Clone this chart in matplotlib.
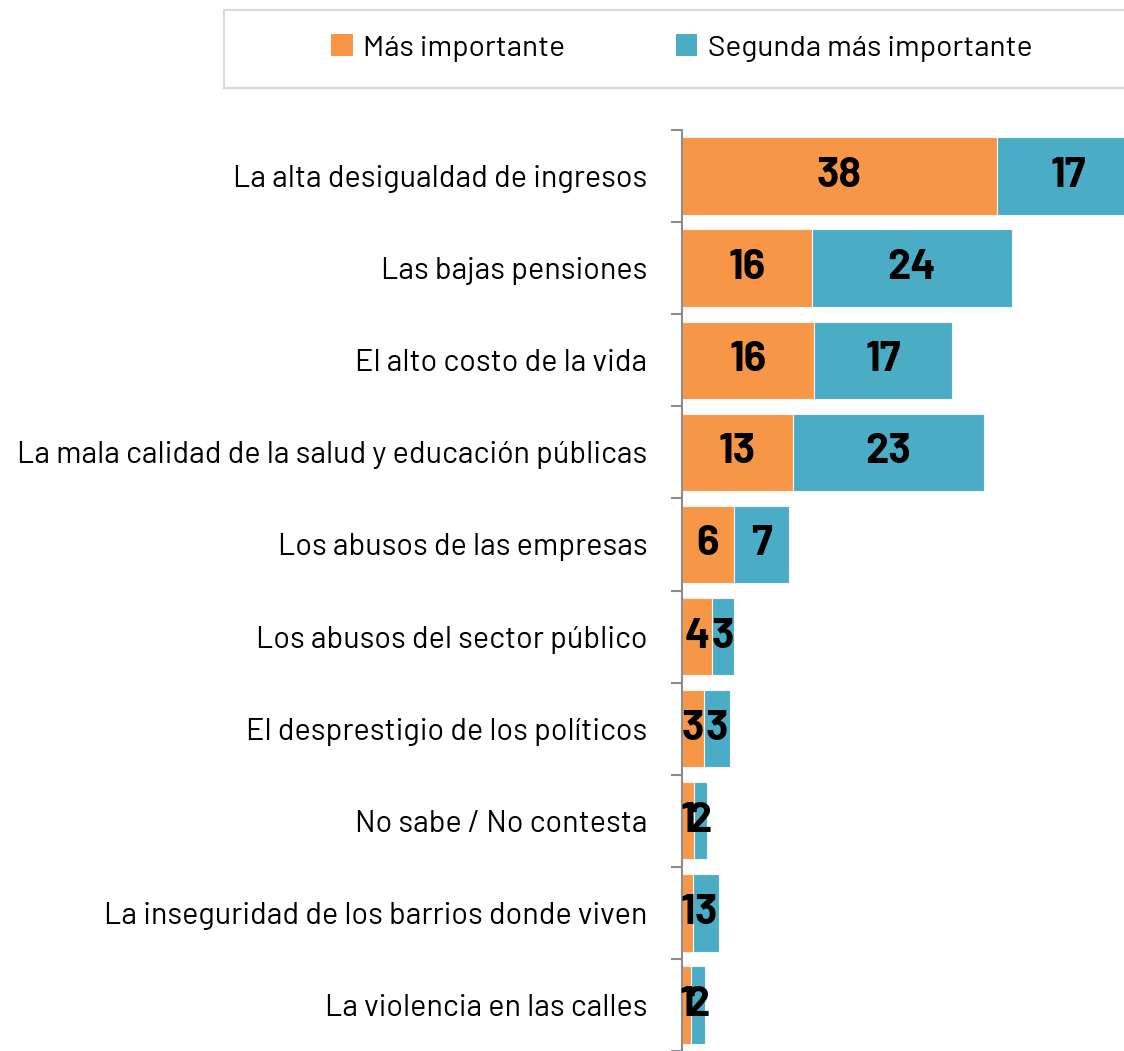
import matplotlib.pyplot as plt
import numpy as np
from matplotlib.patches import Rectangle, Patch

categories = [
    "La alta desigualdad de ingresos",
    "Las bajas pensiones",
    "El alto costo de la vida",
    "La mala calidad de la salud y educación públicas",
    "Los abusos de las empresas",
    "Los abusos del sector público",
    "El desprestigio de los políticos",
    "No sabe / No contesta",
    "La inseguridad de los barrios donde viven",
    "La violencia en las calles",
]
mas_importante = [37.8, 15.6, 15.85, 13.3, 6.2, 3.6, 2.6, 1.4, 1.3, 1.1]
segunda = [17.2, 24.0, 16.6, 22.9, 6.6, 2.6, 3.2, 1.6, 3.2, 1.7]
series_names = ["Más importante", "Segunda más importante"]
colors = ["#F79646", "#4BACC6"]

plt.rcParams["font.family"] = ["Barlow", "Roboto Condensed", "DejaVu Sans"]

fig = plt.figure(figsize=(11.24, 10.51), dpi=100)
ax = fig.add_axes([682 / 1124, 0, 1 - 682 / 1124, 1 - 130 / 1051])

y = np.arange(len(categories))
left = np.zeros(len(categories))
for vals, name, color in zip([mas_importante, segunda], series_names, colors):
    vals = np.array(vals)
    bars = ax.barh(y, vals, left=left, height=0.84, color=color,
                   edgecolor="#f4f4f4", linewidth=0.8, label=name)
    for b, v in zip(bars, vals):
        ax.text(b.get_x() + b.get_width() / 2, b.get_y() + b.get_height() / 2,
                f"{round(v)}", ha="center", va="center", fontsize=30,
                fontweight="bold", color="black", clip_on=False)
    left += vals

ax.set_xlim(0, 53.06)
ax.set_ylim(len(categories) - 0.5, -0.5)
ax.set_yticks(y)
ax.set_yticklabels(categories, fontsize=22, fontweight="normal")
ax.set_yticks(np.arange(len(categories) + 1) - 0.5, minor=True)
ax.tick_params(axis="y", which="major", length=0, pad=25)
ax.tick_params(axis="y", which="minor", length=8, width=1.5, color="#8c8c8c")
ax.set_xticks([])
for s in ["top", "right", "bottom"]:
    ax.spines[s].set_visible(False)
ax.spines["left"].set_color("#8c8c8c")
ax.spines["left"].set_linewidth(1.5)

# legend box
fig.patches.append(Rectangle((224 / 1124, 1 - 88 / 1051), 1.0, 78 / 1051,
                             transform=fig.transFigure, facecolor="white",
                             edgecolor="#d9d9d9", linewidth=1.5))
handles = [Patch(facecolor=c, label=n) for c, n in zip(colors, series_names)]
leg = fig.legend(handles=handles, loc="center", bbox_to_anchor=(682 / 1124, 1 - 48 / 1051),
                 ncol=2, frameon=False, fontsize=21.5, handlelength=0.72, handleheight=0.72,
                 handletextpad=0.35, columnspacing=3.7)

plt.savefig("out.png", dpi=100)
